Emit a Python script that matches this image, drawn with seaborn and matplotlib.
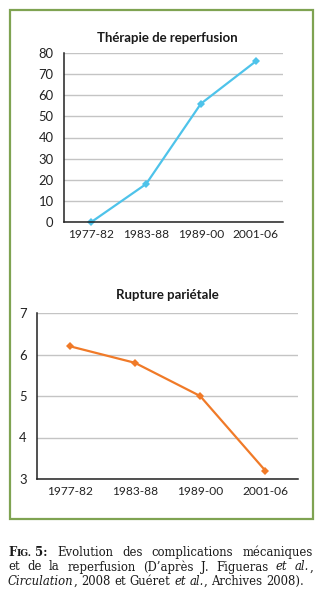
import matplotlib
matplotlib.use("Agg")
import matplotlib.pyplot as plt
import seaborn as sns
import pandas as pd
from matplotlib.patches import Rectangle

categories = ["1977-82", "1983-88", "1989-00", "2001-06"]
reperfusion = [0, 18, 56, 76]
rupture = [6.2, 5.8, 5.0, 3.2]
top_title = "Thérapie de reperfusion"
bottom_title = "Rupture pariétale"
top_yticks = [0, 10, 20, 30, 40, 50, 60, 70, 80]
bottom_yticks = [3, 4, 5, 6, 7]

sns.set_theme(style="white")
plt.rcParams["font.family"] = ["Lato", "DejaVu Sans"]

W, H = 322, 600
fig = plt.figure(figsize=(W / 100, H / 100), dpi=100)
fig.patch.set_facecolor("white")

def ax_rect(l, r, t, b):
    return [l / W, 1 - b / H, (r - l) / W, (b - t) / H]

BLUE = "#4ec3ea"
ORANGE = "#f07a28"
GRID = "#c4c4c4"

def style_axes(ax, yticks, ylim):
    ax.set_xlim(-0.5, 3.5)
    ax.set_ylim(*ylim)
    ax.set_yticks(yticks)
    ax.set_xticks([-0.5, 0.5, 1.5, 2.5, 3.5])
    ax.set_xticklabels([])
    ax.set_xticks(range(4), minor=True)
    ax.set_xticklabels(categories, minor=True, fontsize=8.6, color="#222222")
    ax.tick_params(axis="x", which="minor", length=0, pad=5)
    ax.tick_params(axis="x", which="major", length=4.5, width=1.1, color="#222222", direction="out")
    ax.tick_params(axis="y", length=4.5, width=1.1, color="#222222", direction="out",
                   labelsize=9.4, labelcolor="#222222", pad=3)
    for s in ["top", "right"]:
        ax.spines[s].set_visible(False)
    for s in ["left", "bottom"]:
        ax.spines[s].set_color("#222222")
        ax.spines[s].set_linewidth(1.1)
    ax.yaxis.grid(True, color=GRID, linewidth=1.0)
    ax.xaxis.grid(False)
    ax.set_axisbelow(True)
    ax.set_xlabel("")
    ax.set_ylabel("")
    ax.set_facecolor("white")

# top chart
ax1 = fig.add_axes(ax_rect(64, 283, 53, 222))
df1 = pd.DataFrame({"x": range(4), "y": reperfusion})
sns.lineplot(data=df1, x="x", y="y", ax=ax1, color=BLUE, linewidth=1.6,
             marker="D", markersize=4.5, markeredgewidth=0, clip_on=False)
style_axes(ax1, top_yticks, (0, 80))

# bottom chart
ax2 = fig.add_axes(ax_rect(37, 298, 313, 479))
df2 = pd.DataFrame({"x": range(4), "y": rupture})
sns.lineplot(data=df2, x="x", y="y", ax=ax2, color=ORANGE, linewidth=1.6,
             marker="D", markersize=4.5, markeredgewidth=0, clip_on=False)
style_axes(ax2, bottom_yticks, (3, 7))

# titles
fig.text(167 / W, 1 - 38 / H, top_title, ha="center", va="center",
         fontsize=9.5, fontweight="bold", color="#1a1a1a")
fig.text(167 / W, 1 - 295 / H, bottom_title, ha="center", va="center",
         fontsize=9.5, fontweight="bold", color="#1a1a1a")

# border
fig.add_artist(Rectangle((10 / W, 1 - 519 / H), (313 - 10) / W, (519 - 10) / H,
                         transform=fig.transFigure, fill=False,
                         edgecolor="#7fa352", linewidth=1.6))

# caption (justified lines)
renderer = fig.canvas.get_renderer()
SERIF = ["DejaVu Serif"]
CAP_SIZE = 8.4
CAP_COLOR = "#1a1a1a"

def make(text, size=CAP_SIZE, weight="normal", style="normal"):
    t = fig.text(0, 0, text, fontsize=size, fontweight=weight, fontstyle=style,
                 family=SERIF, color=CAP_COLOR, va="baseline", ha="left")
    w = t.get_window_extent(renderer).width
    return t, w

def layout_line(words, x0, x1, y, justify=True):
    items = []
    for word in words:
        pieces = [make(txt, **kw) for txt, kw in word]
        items.append(pieces)
    widths = [sum(pw for _, pw in p) for p in items]
    space = make(" ")[1]
    if justify and len(items) > 1:
        gap = (x1 - x0 - sum(widths)) / (len(items) - 1)
    else:
        gap = space
    x = x0
    for pieces, w in zip(items, widths):
        xx = x
        for t, pw in pieces:
            t.set_position((xx / W, 1 - y / H))
            xx += pw
        x += w + gap

B = dict(weight="bold")
Bs = dict(weight="bold", size=CAP_SIZE * 0.78)
N = {}
I = dict(style="italic")

line1 = [[("F", B), ("IG.", Bs), (" 5:", B)], [("Evolution", N)], [("des", N)],
         [("complications", N)], [("mécaniques", N)]]
line2 = [[("et", N)], [("de", N)], [("la", N)], [("reperfusion", N)], [("(D’après", N)],
         [("J.", N)], [("Figueras", N)], [("et", I)], [("al.", I), (",", N)]]
line3 = [[("Circulation", I), (",", N)], [("2008", N)], [("et", N)], [("Guéret", N)],
         [("et", I)], [("al.", I), (",", N)], [("Archives", N)], [("2008).", N)]]

layout_line(line1, 8, 313, 556)
layout_line(line2, 8, 313, 570.5)
layout_line(line3, 8, 313, 585, justify=False)

fig.savefig("out.png", dpi=100, facecolor="white")
